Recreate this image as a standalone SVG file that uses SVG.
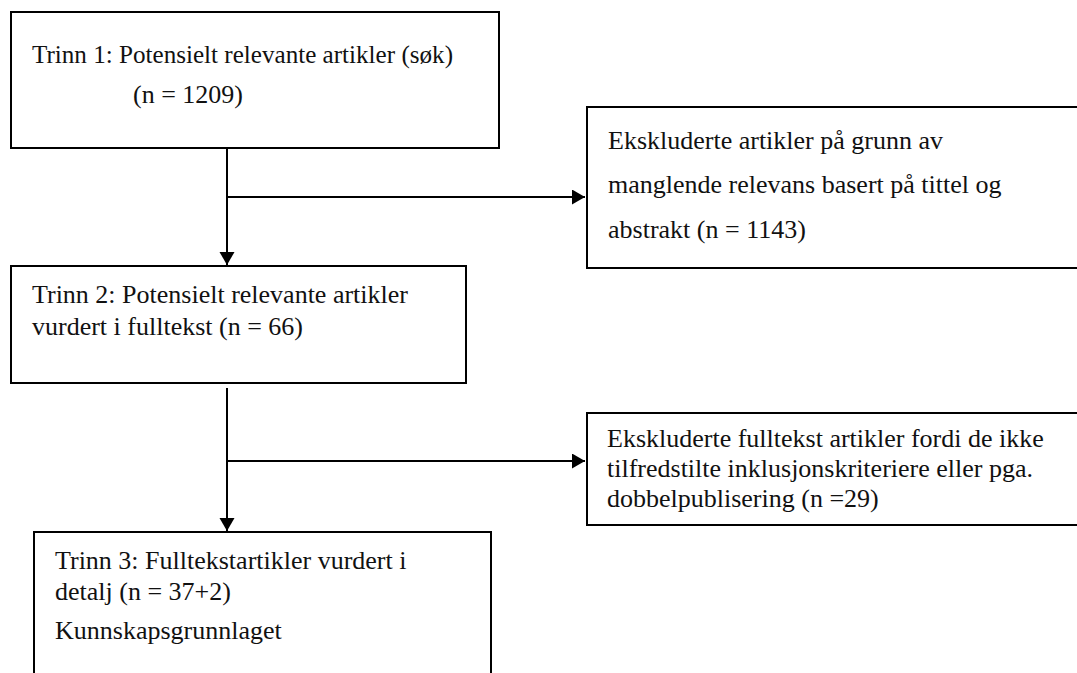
<svg xmlns="http://www.w3.org/2000/svg" width="1077" height="673" viewBox="0 0 1077 673">
<defs>
<style>
.box{fill:#fff;stroke:#000;stroke-width:2}
.t{font-family:"Liberation Serif","Times New Roman",serif;font-size:26px;fill:#111}
.c{stroke:#000;stroke-width:2;fill:none}
</style>
<marker id="ah" markerUnits="userSpaceOnUse" markerWidth="14" markerHeight="16" refX="13" refY="7.5" orient="auto">
<path d="M0,0 L13,7.5 L0,15 z" fill="#000"/>
</marker>
</defs>
<rect width="1077" height="673" fill="#fff"/>
<g id="connectors">
<line class="c" x1="227" y1="148" x2="227" y2="265" marker-end="url(#ah)"/>
<line class="c" x1="227" y1="197" x2="585" y2="197" marker-end="url(#ah)"/>
<line class="c" x1="227" y1="388" x2="227" y2="531" marker-end="url(#ah)"/>
<line class="c" x1="227" y1="461" x2="585" y2="461" marker-end="url(#ah)"/>
</g>
<g id="n1">
<rect class="box" x="11" y="12" width="488" height="136"/>
<text class="t" x="32" y="63" textLength="421" lengthAdjust="spacingAndGlyphs">Trinn 1: Potensielt relevante artikler (søk)</text>
<text class="t" x="133" y="103">(n = 1209)</text>
</g>
<g id="n2">
<rect class="box" x="587" y="107" width="500" height="161"/>
<text class="t" x="608" y="149">Ekskluderte artikler på grunn av</text>
<text class="t" x="608" y="193">manglende relevans basert på tittel og</text>
<text class="t" x="608" y="238">abstrakt (n = 1143)</text>
</g>
<g id="n3">
<rect class="box" x="11" y="266" width="455" height="117"/>
<text class="t" x="32" y="303">Trinn 2: Potensielt relevante artikler</text>
<text class="t" x="32" y="335">vurdert i fulltekst (n = 66)</text>
</g>
<g id="n4">
<rect class="box" x="587" y="413" width="500" height="112"/>
<text class="t" x="607" y="447">Ekskluderte fulltekst artikler fordi de ikke</text>
<text class="t" x="607" y="477">tilfredstilte inklusjonskriteriere eller pga.</text>
<text class="t" x="607" y="507">dobbelpublisering (n =29)</text>
</g>
<g id="n5">
<rect class="box" x="34" y="532" width="457" height="160"/>
<text class="t" x="55" y="569">Trinn 3: Fulltekstartikler vurdert i</text>
<text class="t" x="55" y="600">detalj (n = 37+2)</text>
<text class="t" x="55" y="639">Kunnskapsgrunnlaget</text>
</g>
</svg>
